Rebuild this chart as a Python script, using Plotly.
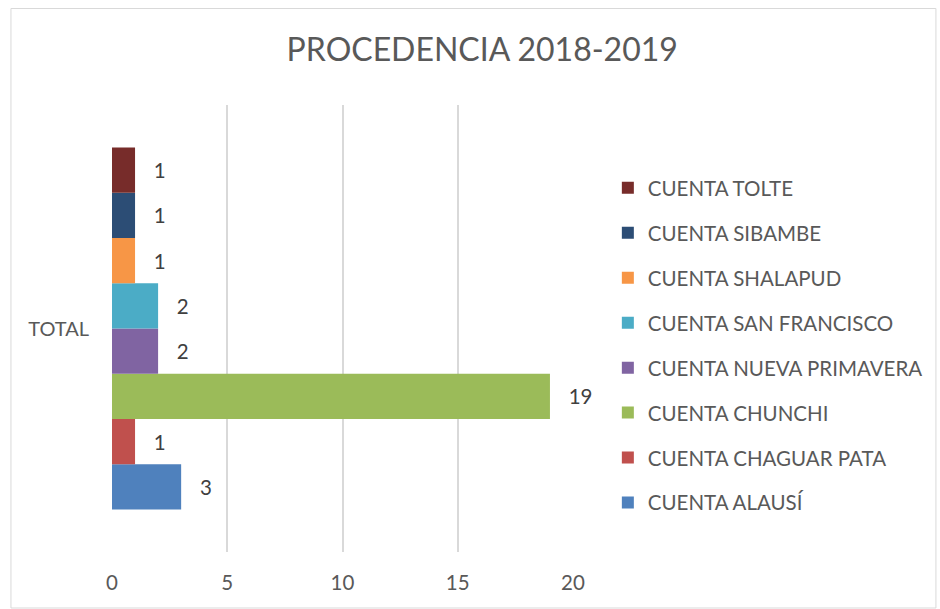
import plotly.graph_objects as go

# Series in bottom-to-top order
series_names = [
    "CUENTA ALAUSÍ",
    "CUENTA CHAGUAR PATA",
    "CUENTA CHUNCHI",
    "CUENTA NUEVA PRIMAVERA",
    "CUENTA SAN FRANCISCO",
    "CUENTA SHALAPUD",
    "CUENTA SIBAMBE",
    "CUENTA TOLTE",
]
series_values = [3, 1, 19, 2, 2, 1, 1, 1]
series_colors = ["#4F81BD", "#C0504D", "#9BBB59", "#8064A2",
                 "#4BACC6", "#F79646", "#2C4D75", "#772C2A"]
category = ["TOTAL"]
x_ticks = [0, 5, 10, 15, 20]

FONT = "Lato, Open Sans, sans-serif"
TEXT = "#595959"
PAD = "\u00a0\u00a0\u00a0"

fig = go.Figure()
n = len(series_names)
for i, (name, val, col) in enumerate(zip(series_names, series_values, series_colors)):
    fig.add_trace(go.Bar(
        y=category, x=[val], name=name, orientation="h",
        marker=dict(color=col, line=dict(width=0)),
        text=[PAD + str(val)], textposition="outside", constraintext="none",
        cliponaxis=False,
        textfont=dict(family=FONT, size=20.5, color="#404040"),
        legendgroup=name, legendrank=n - i,
    ))

W, H = 940, 609
ml, mr, mt, mb = 112, 365, 105, 57
pw, ph = W - ml - mr, H - mt - mb

def px_x(p):
    return (p - ml) / pw

def px_y(p):
    return (H - mb - p) / ph

fig.update_layout(
    width=W, height=H,
    margin=dict(l=ml, r=mr, t=mt, b=mb, pad=0),
    paper_bgcolor="white", plot_bgcolor="white",
    barmode="group", bargap=0.19, bargroupgap=0,
    font=dict(family=FONT, color=TEXT),
    title=dict(text="PROCEDENCIA 2018-2019", x=0.513, xanchor="center",
               y=1 - 50 / H, yanchor="middle",
               font=dict(family=FONT, size=32, color=TEXT)),
    xaxis=dict(range=[0, 20], tickvals=x_ticks, showgrid=True,
               gridcolor="#D9D9D9", gridwidth=1.5, zeroline=False,
               showline=False, ticks="", ticklabelstandoff=16,
               tickfont=dict(family=FONT, size=20.5, color=TEXT)),
    yaxis=dict(showgrid=False, zeroline=False, showline=False, ticks="",
               ticklabelstandoff=22,
               tickfont=dict(family=FONT, size=20, color=TEXT)),
    legend=dict(traceorder="grouped", x=px_x(610), xanchor="left",
                y=px_y(168), yanchor="top", tracegroupgap=15.3,
                font=dict(family=FONT, size=20.5, color=TEXT),
                bgcolor="rgba(0,0,0,0)", itemwidth=30),
    showlegend=True,
    shapes=[dict(type="rect", xref="paper", yref="paper",
                 x0=px_x(10.5), x1=px_x(939.5), y0=px_y(608), y1=px_y(8.5),
                 line=dict(color="#D9D9D9", width=1), layer="below")],
)

fig.write_html("out.html")
